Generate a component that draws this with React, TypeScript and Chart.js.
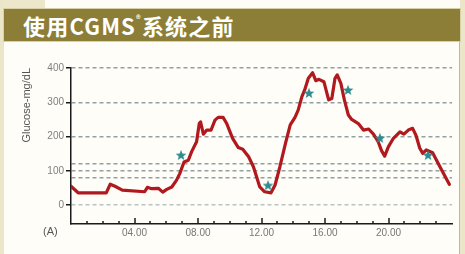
import React, { useEffect, useRef } from "react";
import { Chart, registerables } from "chart.js";

Chart.register(...registerables);

const hours = [0, 0.45, 2.22, 2.47, 2.77, 3.23, 4.64, 4.81, 5.08, 5.5, 5.78, 6.03, 6.35, 6.65, 6.85, 7.12, 7.39, 7.6, 7.91, 8.08, 8.16, 8.34, 8.55, 8.82, 9.07, 9.27, 9.58, 9.81, 10.18, 10.54, 10.82, 11.19, 11.49, 11.69, 11.89, 12.2, 12.6, 12.85, 13.16, 13.51, 13.81, 14.11, 14.31, 14.54, 14.72, 14.95, 15.22, 15.42, 15.62, 15.93, 16.23, 16.43, 16.63, 16.77, 17.0, 17.22, 17.47, 17.68, 18.1, 18.42, 18.75, 19.05, 19.35, 19.56, 19.76, 19.99, 20.31, 20.72, 20.97, 21.25, 21.52, 21.73, 21.97, 22.16, 22.38, 22.78, 23.24, 23.83];
const glucose = [55, 36, 36, 61, 55, 44, 39, 52, 48, 49, 38, 46, 53, 73, 92, 126, 131, 156, 185, 238, 243, 207, 219, 219, 248, 256, 256, 238, 195, 168, 163, 141, 112, 83, 53, 39, 36, 58, 112, 180, 234, 256, 277, 316, 336, 370, 386, 363, 367, 360, 307, 311, 370, 380, 355, 307, 263, 250, 238, 219, 222, 207, 185, 159, 143, 170, 195, 214, 207, 219, 224, 204, 166, 151, 161, 153, 112, 61];

const fingerHours = [6.93, 12.41, 14.99, 17.45, 19.46, 22.49];
const fingerValues = [146, 58, 327, 336, 196, 146];

const yTicks = [0, 80, 100, 120, 200, 300, 400];
const yLabeled = [0, 100, 200, 300, 400];
const xTicks = [4, 8, 12, 16, 20];
const xLabels = ["04.00", "08.00", "12.00", "16.00", "20.00"];

const Y_TITLE = "Glucose-mg/dL";

function makeStar(): HTMLCanvasElement {
  const c = document.createElement("canvas");
  c.width = 12;
  c.height = 12;
  const ctx = c.getContext("2d")!;
  ctx.fillStyle = "#2e8c8e";
  ctx.beginPath();
  const cx = 6, cy = 6.4, R = 5.6, r = 2.4;
  for (let i = 0; i < 10; i++) {
    const a = -Math.PI / 2 + (i * Math.PI) / 5;
    const rad = i % 2 === 0 ? R : r;
    const px = cx + rad * Math.cos(a);
    const py = cy + rad * Math.sin(a);
    if (i === 0) ctx.moveTo(px, py);
    else ctx.lineTo(px, py);
  }
  ctx.closePath();
  ctx.fill();
  return c;
}

const innerTicks = {
  id: "innerTicks",
  afterDraw(chart: any) {
    const xs = chart.scales.x;
    const ctx = chart.ctx;
    const bottom = chart.chartArea.bottom;
    ctx.save();
    ctx.strokeStyle = "#1a1a1a";
    ctx.lineWidth = 1.5;
    for (let h = 1; h < 24; h++) {
      const px = Math.round(xs.getPixelForValue(h));
      const len = h % 4 === 0 ? 6 : 3;
      ctx.beginPath();
      ctx.moveTo(px, bottom);
      ctx.lineTo(px, bottom - len);
      ctx.stroke();
    }
    ctx.restore();
  },
};

export default function App() {
  const ref = useRef<HTMLCanvasElement>(null);
  useEffect(() => {
    if (!ref.current) return;
    const star = makeStar();
    const chart = new Chart(ref.current, {
      type: "line",
      data: {
        datasets: [
          {
            label: "CGMS",
            data: hours.map((h, i) => ({ x: h, y: glucose[i] })),
            borderColor: "#b0191d",
            borderWidth: 3.2,
            borderJoinStyle: "round",
            borderCapStyle: "round",
            pointRadius: 0,
            tension: 0,
            fill: false,
            order: 2,
          },
          {
            label: "Finger stick",
            data: fingerHours.map((h, i) => ({ x: h, y: fingerValues[i] })),
            showLine: false,
            pointStyle: star as any,
            pointRadius: 6,
            order: 1,
            clip: false as any,
          },
        ],
      },
      options: {
        animation: false,
        responsive: false,
        maintainAspectRatio: false,
        layout: { padding: { top: 25, right: 8, bottom: 0, left: 0 } },
        plugins: { legend: { display: false }, tooltip: { enabled: false } },
        scales: {
          x: {
            type: "linear",
            min: 0,
            max: 24,
            afterBuildTicks: (s: any) => {
              s.ticks = xTicks.map((v) => ({ value: v }));
            },
            afterFit: (s: any) => {
              s.height = 26;
            },
            ticks: {
              padding: 3,
              color: "#777",
              font: { family: "'Liberation Sans', Arial, sans-serif", size: 10 },
              maxRotation: 0,
              autoSkip: false,
              callback: (v: any) => {
                const i = xTicks.indexOf(Number(v));
                return i >= 0 ? xLabels[i] : "";
              },
            },
            grid: { display: false, drawTicks: false },
            border: { display: true, color: "#1a1a1a", width: 1.5 },
          },
          y: {
            type: "linear",
            min: -55,
            max: 400,
            afterBuildTicks: (s: any) => {
              s.ticks = yTicks.map((v) => ({ value: v }));
            },
            afterFit: (s: any) => {
              s.width = 67;
            },
            ticks: {
              padding: 2,
              color: "#808080",
              font: { family: "'Liberation Sans', Arial, sans-serif", size: 10 },
              autoSkip: false,
              callback: (v: any) => (yLabeled.includes(Number(v)) ? String(v) : ""),
            },
            grid: {
              color: (c: any) => (c.tick && c.tick.value === 0 ? "#b9c2c4" : "#93a0a3"),
              lineWidth: 1.5,
              drawTicks: true,
              tickLength: 5,
              tickBorderDash: [],
              tickColor: (c: any) =>
                c.tick && yLabeled.includes(c.tick.value) ? "#1a1a1a" : "rgba(0,0,0,0)",
              tickWidth: 1.5,
            } as any,
            border: { display: true, color: "#1a1a1a", width: 1.5, dash: [4, 3] } as any,
            title: {
              display: true,
              text: Y_TITLE,
              align: "end",
              color: "#555",
              font: { family: "'Liberation Sans', Arial, sans-serif", size: 11 },
              padding: { top: 16, bottom: 0 },
            },
          },
        },
      },
      plugins: [innerTicks],
    });
    return () => chart.destroy();
  }, []);

  return (
    <div
      style={{
        position: "fixed",
        left: 0,
        top: 0,
        width: 465,
        height: 254,
        background: "#fdfcf7",
        overflow: "hidden",
      }}
    >
      <div style={{ position: "absolute", left: 0, top: 0, width: 45, height: 8, background: "#ece6cb" }} />
      <div style={{ position: "absolute", left: 0, top: 0, width: 4, height: 254, background: "#ece6c9" }} />
      <div style={{ position: "absolute", left: 460, top: 0, width: 5, height: 254, background: "#ece6c9" }} />
      <div
        style={{
          position: "absolute",
          left: 3,
          top: 8,
          width: 458,
          height: 34,
          boxSizing: "border-box",
          background: "#8c7e36",
          border: "1px solid #d9d1a6",
          color: "#fff",
          fontFamily: "'Noto Sans CJK SC', 'Noto Sans', sans-serif",
          fontWeight: 700,
          fontSize: 22,
          lineHeight: "32px",
          paddingLeft: 19,
          letterSpacing: 1.2,
          whiteSpace: "nowrap",
        }}
      >
        使用CGMS<sup style={{ fontSize: 9, verticalAlign: "top", lineHeight: "22px" }}>®</sup>系统之前
      </div>
      <div
        style={{
          position: "absolute",
          left: 4,
          top: 42,
          width: 456,
          height: 212,
          background: "#fefdf8",
          borderRight: "1px solid #b8b8b0",
          boxSizing: "border-box",
        }}
      />
      <div style={{ position: "absolute", left: 4, top: 43, width: 456, height: 207 }}>
        <canvas ref={ref} width={456} height={207} style={{ display: "block" }} />
      </div>
      <div
        style={{
          position: "absolute",
          left: 43,
          top: 225,
          fontFamily: "'Liberation Sans', Arial, sans-serif",
          fontSize: 11,
          color: "#555",
        }}
      >
        (A)
      </div>
    </div>
  );
}
